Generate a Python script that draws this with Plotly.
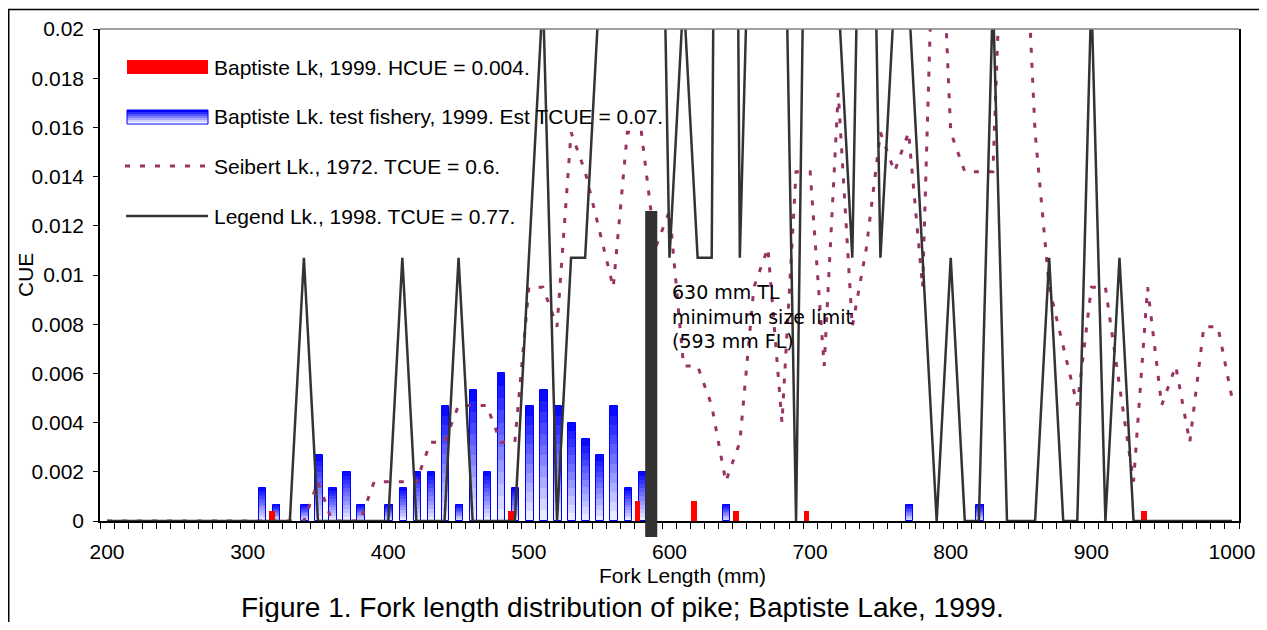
import plotly.graph_objects as go

# ---------------- data ----------------
fork_length = [200, 210, 220, 230, 240, 250, 260, 270, 280, 290,
               300, 310, 320, 330, 340, 350, 360, 370, 380, 390,
               400, 410, 420, 430, 440, 450, 460, 470, 480, 490,
               500, 510, 520, 530, 540, 550, 560, 570, 580, 590,
               600, 610, 620, 630, 640, 650, 660, 670, 680, 690,
               700, 710, 720, 730, 740, 750, 760, 770, 780, 790,
               800, 810, 820, 830, 840, 850, 860, 870, 880, 890,
               900, 910, 920, 930, 940, 950, 960, 970, 980, 990, 1000]

# Seibert Lk., 1972 (dashed)
seibert_cue = [0, 0, 0, 0, 0, 0, 0, 0, 0, 0,
               0, 0, 0, 0, 0, 0.0016, 0, 0, 0, 0.0016,
               0.0016, 0.0016, 0.0016, 0.0032, 0.0032, 0.0047, 0.0047, 0.0047, 0.0032, 0.0032,
               0.0095, 0.0095, 0.0079, 0.0158, 0.0142, 0.0118, 0.0095, 0.0158, 0.0158, 0.0111,
               0.0126, 0.0063, 0.0063, 0.0047, 0.0016, 0.0032, 0.0095, 0.0111, 0.0040, 0.0142,
               0.0142, 0.0063, 0.0174, 0.0079, 0.0111, 0.0158, 0.0142, 0.0158, 0.0095, 0.0290,
               0.0158, 0.0142, 0.0142, 0.0142, 0.0300, 0.0280, 0.0158, 0.0095, 0.0071, 0.0047,
               0.0095, 0.0095, 0.0055, 0.0016, 0.0095, 0.0047, 0.0063, 0.0032, 0.0079, 0.0079, 0.0050]

# Legend Lk., 1998 (solid)
legend_cue = [0, 0, 0, 0, 0, 0, 0, 0, 0, 0,
              0, 0, 0, 0, 0.0107, 0, 0, 0, 0, 0,
              0, 0.0107, 0, 0, 0, 0.0107, 0, 0, 0, 0,
              0.0107, 0.0214, 0, 0.0107, 0.0107, 0.0214, 0.0214, 0.0321, 0.0321, 0.0428,
              0.0107, 0.0214, 0.0107, 0.0107, 0.0963, 0.0107, 0.0321, 0.0214, 0.0321, 0,
              0.0428, 0.0321, 0.0214, 0.0107, 0.0428, 0.0107, 0.0214, 0.0214, 0.0107, 0,
              0.0107, 0, 0, 0.0214, 0, 0, 0, 0.0107, 0, 0,
              0.0214, 0, 0.0107, 0, 0, 0, 0, 0, 0, 0, 0]

# Baptiste Lk. test fishery, 1999 (blue bars)
blue_fl = [310, 320, 340, 350, 360, 370, 380, 400, 410, 420,
           430, 440, 450, 460, 470, 480, 490, 500, 510, 520,
           530, 540, 550, 560, 570, 580, 640, 770, 820]
blue_cue = [0.00133, 0.00067, 0.00067, 0.00267, 0.00133, 0.002, 0.00067, 0.00067, 0.00133, 0.002,
            0.002, 0.00467, 0.00067, 0.00533, 0.002, 0.006, 0.00133, 0.00467, 0.00533, 0.00467,
            0.004, 0.00333, 0.00267, 0.00467, 0.00133, 0.002, 0.00067, 0.00067, 0.00067]

# Baptiste Lk, 1999 angling (red bars)
red_fl = [310, 480, 570, 610, 640, 690, 930]
red_cue = [0.0004, 0.0004, 0.0008, 0.0008, 0.0004, 0.0004, 0.0004]

series_names = ["Baptiste Lk, 1999. HCUE = 0.004.",
                "Baptiste Lk. test fishery, 1999. Est TCUE = 0.07.",
                "Seibert Lk., 1972. TCUE = 0.6.",
                "Legend Lk., 1998. TCUE = 0.77."]

x_tick_vals = [200, 300, 400, 500, 600, 700, 800, 900, 1000]
x_tick_text = ["200", "300", "400", "500", "600", "700", "800", "900", "1000"]
y_tick_vals = [0, 0.002, 0.004, 0.006, 0.008, 0.01, 0.012, 0.014, 0.016, 0.018, 0.02]
y_tick_text = ["0", "0.002", "0.004", "0.006", "0.008", "0.01", "0.012", "0.014", "0.016", "0.018", "0.02"]
x_title = "Fork Length (mm)"
y_title = "CUE"

limit_fl = 587        # drawn position of the size-limit marker
limit_top = 0.0126
limit_text = "630 mm TL<br>minimum size limit<br>(593 mm FL)"
caption = "Figure 1. Fork length distribution of pike; Baptiste Lake, 1999."

# ---------------- layout helpers (page pixel coordinates) ----------------
OFF = 8                      # default page body margin
W, H = 1267 - 2 * OFF, 630 - 2 * OFF
PL, PR, PT, PB = 100, 1239, 29, 521
def fx(px):
    return (px - PL) / (PR - PL)
def fy(py):
    return (PB - py) / (PB - PT)

FONT = "Liberation Sans, Arial, sans-serif"
BLUE = "rgb(0,0,255)"
RED = "rgb(255,0,0)"
PLUM = "rgb(153,51,102)"
DARK = "#333333"

fig = go.Figure()

# blue bars with vertical gradient (blue top -> white bottom)
N = 12
for k in range(N):
    t = (k + 0.5) / N
    c = int(round(245 * (1 - t)))
    fig.add_trace(go.Bar(
        x=blue_fl,
        y=[v / N for v in blue_cue],
        base=[v * k / N for v in blue_cue],
        offset=-2.0, width=5.3,
        marker=dict(color=f"rgb({c},{c},255)", line=dict(width=0)),
        showlegend=False, hoverinfo="skip"))
fig.add_trace(go.Bar(
    x=blue_fl, y=blue_cue, offset=-2.0, width=5.3,
    marker=dict(color="rgba(0,0,0,0)", line=dict(color=BLUE, width=1)),
    name=series_names[1], showlegend=False))

# red bars
fig.add_trace(go.Bar(
    x=red_fl, y=red_cue, offset=5.5, width=3.8,
    marker=dict(color=RED, line=dict(width=0)),
    name=series_names[0], showlegend=False))

# Seibert dashed line
fig.add_trace(go.Scatter(
    x=fork_length, y=seibert_cue, mode="lines",
    line=dict(color=PLUM, width=3, dash="5px,10px"),
    name=series_names[2], showlegend=False))

# Legend Lk solid line
fig.add_trace(go.Scatter(
    x=fork_length, y=legend_cue, mode="lines",
    line=dict(color=DARK, width=2.5),
    name=series_names[3], showlegend=False))

shapes = []
# outer frame
shapes.append(dict(type="rect", xref="paper", yref="paper",
                   x0=fx(8.75), x1=fx(1300), y0=fy(700), y1=fy(9.5),
                   line=dict(color="black", width=1.5), layer="below"))
# top border of plot area (gray)
shapes.append(dict(type="line", xref="paper", yref="paper",
                   x0=0, x1=1, y0=1, y1=1, line=dict(color="#808080", width=1.5)))
# size-limit marker
shapes.append(dict(type="rect", xref="x", yref="paper",
                   x0=limit_fl - 4.3, x1=limit_fl + 4.3,
                   y0=fy(537), y1=limit_top / 0.02,
                   line=dict(width=0), fillcolor=DARK, layer="above"))

# ---- manual legend ----
sx0, sx1 = fx(127), fx(208)
row_y = [67, 117, 166, 216]
shapes.append(dict(type="rect", xref="paper", yref="paper",
                   x0=sx0, x1=sx1, y0=fy(74), y1=fy(60),
                   line=dict(width=0), fillcolor=RED))
NS = 7
for k in range(NS):
    t = k / (NS - 1)
    c = int(round(250 * t))
    top = 110 + k * 2
    shapes.append(dict(type="rect", xref="paper", yref="paper",
                       x0=sx0, x1=sx1, y0=fy(top + 2), y1=fy(top),
                       line=dict(width=0), fillcolor=f"rgb({c},{c},255)"))
shapes.append(dict(type="rect", xref="paper", yref="paper",
                   x0=sx0, x1=sx1, y0=fy(124), y1=fy(110),
                   line=dict(color=BLUE, width=1), fillcolor="rgba(0,0,0,0)"))
shapes.append(dict(type="line", xref="paper", yref="paper",
                   x0=fx(125), x1=fx(209), y0=fy(166), y1=fy(166),
                   line=dict(color=PLUM, width=3, dash="5px,10px")))
shapes.append(dict(type="line", xref="paper", yref="paper",
                   x0=fx(126), x1=fx(208), y0=fy(216), y1=fy(216),
                   line=dict(color=DARK, width=2.5)))

annotations = []
for name, ry in zip(series_names, row_y):
    annotations.append(dict(xref="paper", yref="paper", x=fx(212), y=fy(ry),
                            xanchor="left", yanchor="middle", showarrow=False,
                            text=name, font=dict(family=FONT, size=21, color="black")))
annotations.append(dict(xref="x", yref="y", x=600.3, y=0.0083,
                        xanchor="left", yanchor="middle", align="left", showarrow=False,
                        text=limit_text,
                        font=dict(family="DejaVu Sans, Verdana, sans-serif", size=19, color="black")))
# axis titles
annotations.append(dict(xref="paper", yref="paper", x=fx(682), y=fy(575),
                        xanchor="center", yanchor="middle", showarrow=False,
                        text=x_title, font=dict(family=FONT, size=21, color="black")))
annotations.append(dict(xref="paper", yref="paper", x=fx(25), y=fy(275),
                        xanchor="center", yanchor="middle", showarrow=False, textangle=-90,
                        text=y_title, font=dict(family=FONT, size=21, color="black")))
annotations.append(dict(xref="paper", yref="paper", x=fx(622), y=fy(607),
                        xanchor="center", yanchor="middle", showarrow=False,
                        text=caption, font=dict(family=FONT, size=28, color="black")))

fig.update_layout(
    width=W, height=H,
    margin=dict(l=PL - OFF, r=W - (PR - OFF), t=PT - OFF, b=H - (PB - OFF), autoexpand=False),
    paper_bgcolor="white", plot_bgcolor="white",
    barmode="overlay", bargap=0,
    showlegend=False,
    shapes=shapes, annotations=annotations,
    font=dict(family=FONT, size=21, color="black"),
    xaxis=dict(range=[195, 1005], tickmode="array", tickvals=x_tick_vals, ticktext=x_tick_text,
               ticks="", showgrid=False, zeroline=False,
               showline=True, linecolor="black", linewidth=1.5,
               tickfont=dict(family=FONT, size=21, color="black"),
               ticklabelstandoff=11,
               minor=dict(tickmode="linear", tick0=195, dtick=10, ticks="outside",
                          ticklen=6, tickwidth=1, tickcolor="black", showgrid=False)),
    yaxis=dict(range=[0, 0.02], tickmode="array", tickvals=y_tick_vals, ticktext=y_tick_text,
               ticks="outside", ticklen=5, tickwidth=1, tickcolor="black",
               showgrid=False, zeroline=False,
               showline=True, linecolor="black", linewidth=1.5, mirror=True,
               tickfont=dict(family=FONT, size=21, color="black"),
               ticklabelstandoff=5),
)

fig.write_html("out.html")
